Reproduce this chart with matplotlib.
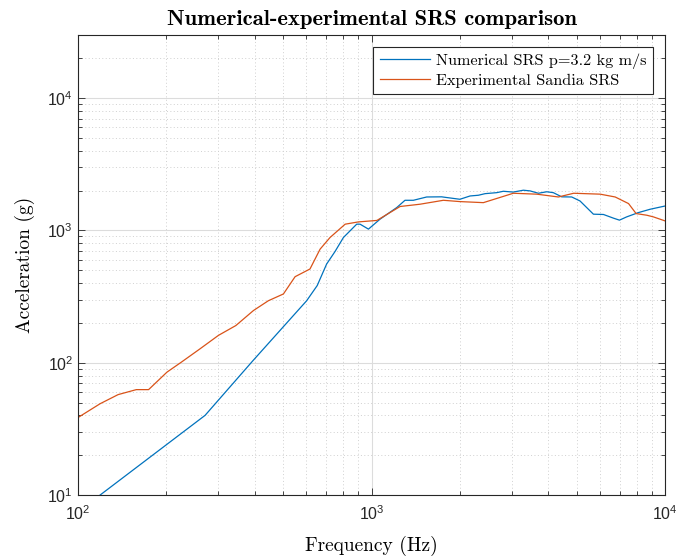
import numpy as np
import matplotlib
matplotlib.use("Agg")
import matplotlib.pyplot as plt
from matplotlib.ticker import LogLocator, NullFormatter

# Numerical SRS, p = 3.2 kg m/s
num_freq = [119, 271, 395, 601, 653, 703, 751, 802, 890, 914, 976, 1069, 1219, 1300,
            1388, 1541, 1733, 1780, 2000, 2166, 2312, 2437, 2669, 2811, 3041, 3289,
            3468, 3700, 3953, 4160, 4443, 4807, 5130, 5698, 6166, 6670, 6990, 7397,
            8110, 8892, 10000]
num_acc = [10, 40, 104, 294, 383, 557, 693, 884, 1115, 1115, 1023, 1217, 1490, 1690,
           1690, 1790, 1795, 1780, 1720, 1822, 1845, 1897, 1930, 1977, 1950, 2014,
           1990, 1910, 1960, 1930, 1795, 1790, 1670, 1327, 1320, 1238, 1196, 1266,
           1364, 1446, 1530]

# Experimental Sandia SRS
exp_freq = [100, 119, 137, 158, 174, 201, 225, 260, 301, 345, 396, 445, 501, 549, 617,
            668, 722, 813, 902, 1043, 1251, 1462, 1757, 2000, 2404, 3041, 3653, 4330,
            4880, 6010, 6760, 7506, 7966, 8660, 9120, 10000]
exp_acc = [38.5, 49, 57.4, 62.6, 62.6, 84.9, 101, 127, 161, 191, 248, 294, 331, 447,
           511, 722, 884, 1115, 1160, 1190, 1517, 1578, 1690, 1652, 1622, 1910, 1880,
           1790, 1910, 1880, 1790, 1596, 1341, 1303, 1266, 1180]

plt.rcParams['mathtext.fontset'] = 'custom'
plt.rcParams['mathtext.rm'] = 'Liberation Sans'
plt.rcParams['mathtext.it'] = 'Liberation Sans'
plt.rcParams['font.family'] = 'Liberation Sans'

fig = plt.figure(figsize=(6.78, 5.56), dpi=100)
ax = fig.add_axes([0.115, 0.1097, 0.866, 0.8273])

ax.loglog(num_freq, num_acc, color='#0072BD', lw=0.9, label='Numerical SRS p=3.2 kg m/s')
ax.loglog(exp_freq, exp_acc, color='#D95319', lw=0.9, label='Experimental Sandia SRS')

ax.set_xlim(100, 1e4)
ax.set_ylim(10, 3e4)

ax.xaxis.set_major_locator(LogLocator(base=10, numticks=10))
ax.yaxis.set_major_locator(LogLocator(base=10, numticks=10))
ax.xaxis.set_minor_locator(LogLocator(base=10, subs=np.arange(2, 10), numticks=20))
ax.yaxis.set_minor_locator(LogLocator(base=10, subs=np.arange(2, 10), numticks=20))
ax.xaxis.set_minor_formatter(NullFormatter())
ax.yaxis.set_minor_formatter(NullFormatter())

# MATLAB style grid and box
ax.grid(True, which='major', color='#dcdcdc', lw=0.8, ls='-')
ax.grid(True, which='minor', color='#d0d0d0', lw=0.7, ls=(0, (1, 2.5)))
ax.set_axisbelow(True)
for s in ax.spines.values():
    s.set_color('#262626')
    s.set_linewidth(0.8)
ax.tick_params(which='both', direction='in', top=True, right=True, colors='#262626',
               labelsize=11.5, width=0.6)
ax.tick_params(which='major', length=5)
ax.tick_params(which='minor', length=3)
ax.tick_params(axis='x', pad=7)

ax.set_title('Numerical-experimental SRS comparison', family='cmb10', fontsize=16.3, pad=7)
ax.set_xlabel('Frequency (Hz)', family='cmr10', fontsize=14, labelpad=9)
ax.set_ylabel('Acceleration (g)', family='cmr10', fontsize=14, labelpad=9)

leg = ax.legend(loc='upper right', bbox_to_anchor=(0.98, 0.975), prop={'family': 'cmr10', 'size': 11.7},
                fancybox=False, framealpha=1, edgecolor='#262626', borderpad=0.4,
                handlelength=3.1, handletextpad=0.4, labelspacing=0.3, borderaxespad=0)
leg.get_frame().set_linewidth(0.8)

fig.savefig('out.png', dpi=100)
